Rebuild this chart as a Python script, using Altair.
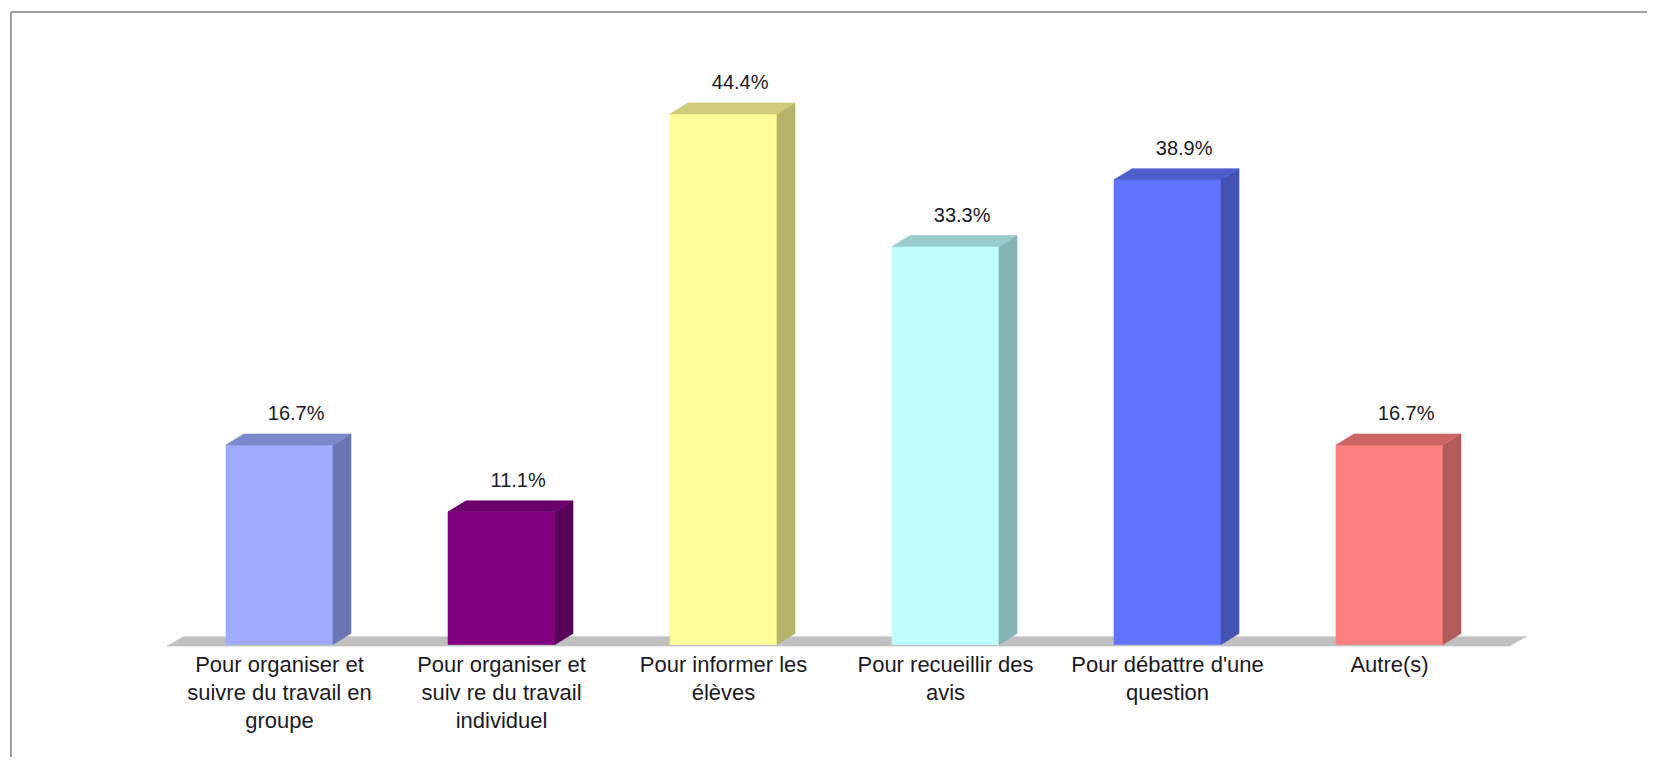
import altair as alt
import pandas as pd

# ---- data ----
categories = [
    "Pour organiser et\nsuivre du travail en\ngroupe",
    "Pour organiser et\nsuiv re du travail\nindividuel",
    "Pour informer les\nélèves",
    "Pour recueillir des\navis",
    "Pour débattre d'une\nquestion",
    "Autre(s)",
]
values = [16.7, 11.1, 44.4, 33.3, 38.9, 16.7]
value_labels = ["16.7%", "11.1%", "44.4%", "33.3%", "38.9%", "16.7%"]

# ---- styles ----
front_colors = ["#A0AAFF", "#800080", "#FFFF99", "#C0FFFF", "#6074FF", "#FF8080"]
side_colors = ["#6B76B0", "#58005A", "#B3B36B", "#86B3B3", "#4352B3", "#B35A5A"]
top_colors = ["#7C88CC", "#6B006B", "#CCCC7A", "#99CCCC", "#4D5ECC", "#CC6666"]
floor_color = "#C0C0C0"

W, H = 1636, 745
HALF = 0.241   # half width of front face (category units)
DX = 0.081     # depth shift in x (category units)
DY = 0.92      # depth shift in y (percent units)

rows = []
for i, v in enumerate(values):
    l, r = i - HALF, i + HALF
    fid, sid, tid = f"a{i}front", f"a{i}side", f"a{i}top"
    rows += [
        dict(id=fid, x=l, y=v, y2=0, col=front_colors[i]),
        dict(id=fid, x=r, y=v, y2=0, col=front_colors[i]),
        dict(id=sid, x=r, y=v, y2=0, col=side_colors[i]),
        dict(id=sid, x=r + DX, y=v + DY, y2=DY, col=side_colors[i]),
        dict(id=tid, x=l, y=v, y2=v, col=top_colors[i]),
        dict(id=tid, x=l + DX, y=v + DY, y2=v, col=top_colors[i]),
        dict(id=tid, x=r, y=v + DY, y2=v, col=top_colors[i]),
        dict(id=tid, x=r + DX, y=v + DY, y2=v + DY, col=top_colors[i]),
    ]
faces = pd.DataFrame(rows)

# floor slab
FL, FR, FDX = -0.507, 5.54, 0.075
F0, F1 = -0.13, 0.65
floor = pd.DataFrame([
    dict(id="floor", x=FL, y=F0, y2=F0, col=floor_color),
    dict(id="floor", x=FL + FDX, y=F1, y2=F0, col=floor_color),
    dict(id="floor", x=FR, y=F1, y2=F0, col=floor_color),
    dict(id="floor", x=FR + FDX, y=F1, y2=F1, col=floor_color),
])

labels = pd.DataFrame({
    "i": list(range(len(values))),
    "v": values,
    "lab": value_labels,
    "cat": categories,
})

XMIN = -1.2095
xs = alt.Scale(domain=[XMIN, XMIN + W / 222.0], nice=False, zero=False)
ys = alt.Scale(domain=[(644.5 - 757) / 11.95, (644.5 - 12) / 11.95], nice=False, zero=False)


def area_layer(df):
    return alt.Chart(df).mark_area(strokeWidth=0.6).encode(
        x=alt.X("x:Q", scale=xs, axis=None),
        y=alt.Y("y:Q", scale=ys, axis=None),
        y2="y2:Q",
        color=alt.Color("col:N", scale=None),
        stroke=alt.Stroke("col:N", scale=None),
        detail="id:N",
    )


floor_layer = area_layer(floor)
face_layer = area_layer(faces)

value_text = alt.Chart(labels).transform_calculate(
    xl="datum.i + 0.075"
).mark_text(
    font="Liberation Sans", fontSize=20, color="#1a1a24",
    align="center", baseline="alphabetic", dy=-25,
).encode(
    x=alt.X("xl:Q", scale=xs, axis=None),
    y=alt.Y("v:Q", scale=ys, axis=None),
    text="lab:N",
)

cat_text = alt.Chart(labels).transform_calculate(zero="0").mark_text(
    font="Liberation Sans", fontSize=22, color="#1a1a24",
    align="center", baseline="alphabetic", dy=27.5,
    lineBreak="\n", lineHeight=28,
).encode(
    x=alt.X("i:Q", scale=xs, axis=None),
    y=alt.Y("zero:Q", scale=ys, axis=None),
    text="cat:N",
)

# frame: only left and top edges are visible in the reference
frame_left = alt.Chart(labels).mark_rule(color="#A0A0A0", strokeWidth=2).encode(
    x=alt.value(0), y=alt.value(0), y2=alt.value(H)
)
frame_top = alt.Chart(labels).mark_rule(color="#A0A0A0", strokeWidth=2).encode(
    x=alt.value(0), x2=alt.value(W), y=alt.value(0)
)

chart = alt.layer(
    floor_layer, face_layer, value_text, cat_text, frame_left, frame_top
).properties(
    width=W,
    height=H,
    autosize=alt.AutoSizeParams(type="none"),
    padding={"left": 3, "top": 4, "right": 0, "bottom": 0},
    background="white",
).configure_view(strokeWidth=0, stroke="transparent")

chart.save("out.html", embed_options={"renderer": "svg", "actions": False})
